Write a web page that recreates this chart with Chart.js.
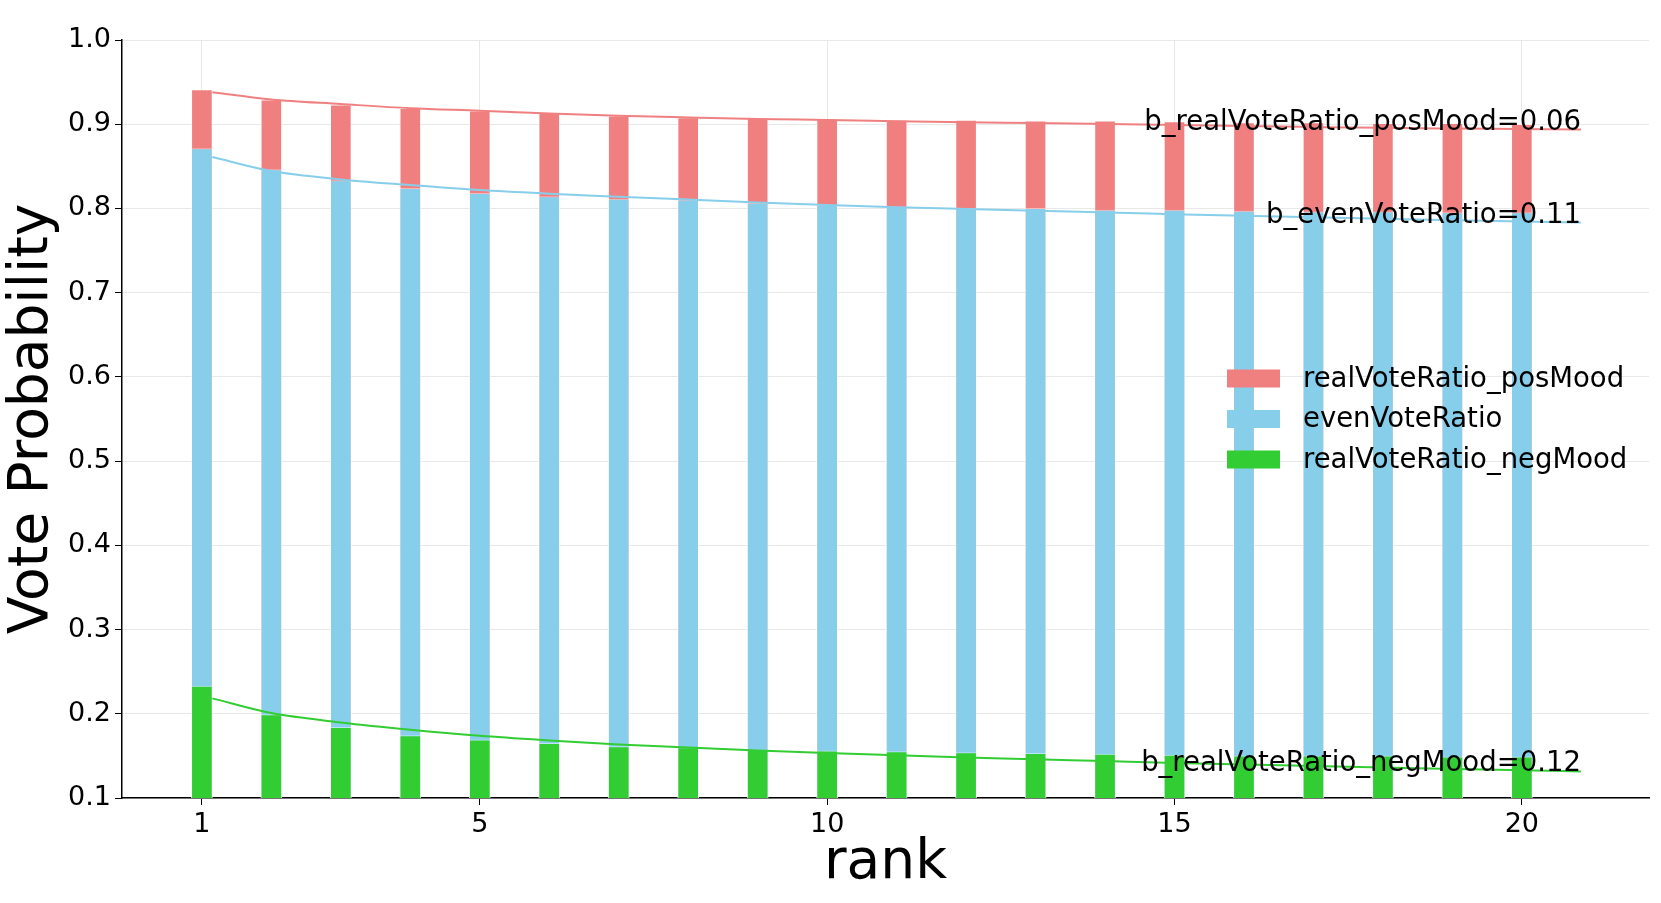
<!DOCTYPE html>
<html>
<head>
<meta charset="utf-8">
<script src="https://cdn.jsdelivr.net/npm/chart.js@4.4.0/dist/chart.umd.min.js"></script>
<style>
html, body { margin: 0; padding: 0; background: #fff; }
</style>
</head>
<body>
<canvas id="voteChart" width="1661" height="903"></canvas>
<script>
// bar values per rank
const ranks = [1, 2, 3, 4, 5, 6, 7, 8, 9, 10, 11, 12, 13, 14, 15, 16, 17, 18, 19, 20]
const posMood = [0.941, 0.929, 0.923, 0.919, 0.916, 0.913, 0.910, 0.908, 0.907, 0.906, 0.905, 0.905, 0.904, 0.904, 0.903, 0.902, 0.902, 0.901, 0.901, 0.900]
const evenVote = [0.871, 0.846, 0.833, 0.824, 0.818, 0.814, 0.811, 0.810, 0.806, 0.804, 0.802, 0.800, 0.800, 0.798, 0.798, 0.797, 0.796, 0.796, 0.795, 0.795]
const negMood = [0.233, 0.199, 0.184, 0.174, 0.169, 0.165, 0.161, 0.160, 0.157, 0.156, 0.155, 0.154, 0.153, 0.152, 0.151, 0.150, 0.150, 0.150, 0.149, 0.149]

// fitted curves
const fitX = [1.15, 2, 3, 4, 5, 6, 7, 8, 9, 10, 11, 12, 13, 14, 15, 16, 17, 18, 19, 20, 20.85]
const fitPos = [0.938, 0.9294, 0.924, 0.919, 0.916, 0.9127, 0.910, 0.908, 0.9063, 0.905, 0.9036, 0.9024, 0.9014, 0.9003, 0.8992, 0.8978, 0.8967, 0.8957, 0.8949, 0.8942, 0.8937]
const fitEven = [0.861, 0.8444, 0.8345, 0.8278, 0.8218, 0.8175, 0.8139, 0.8105, 0.8072, 0.8042, 0.8015, 0.7993, 0.7972, 0.7952, 0.7932, 0.7912, 0.7894, 0.7877, 0.7861, 0.7846, 0.7832]
const fitNeg = [0.2183, 0.2008, 0.1897, 0.181, 0.1738, 0.1683, 0.1635, 0.1600, 0.1565, 0.1535, 0.1507, 0.1482, 0.146, 0.1438, 0.1416, 0.1397, 0.138, 0.1362, 0.1345, 0.133, 0.1315]

const xTicks = [1, 5, 10, 15, 20]
const yTicks = [0.1, 0.2, 0.3, 0.4, 0.5, 0.6, 0.7, 0.8, 0.9, 1.0]
const seriesNames = ['realVoteRatio_posMood', 'evenVoteRatio', 'realVoteRatio_negMood']
const fitLabels = ['b_realVoteRatio_posMood=0.06', 'b_evenVoteRatio=0.11', 'b_realVoteRatio_negMood=0.12']
const colors = ['#f08080', '#87ceeb', '#32cd32']

const FONT = "'DejaVu Sans', sans-serif"

function pts(xs, ys){
return xs.map((x, k) => ({x: x, y: ys[k]}))
}

function barSet(k, values, order){
return {
type: 'bar',
label: seriesNames[k],
data: pts(ranks, values),
backgroundColor: colors[k],
borderColor: 'rgba(255,255,255,0.45)',
borderWidth: 1,
barThickness: 21,
grouped: false,
order: order
}
}

function lineSet(k, values){
return {
type: 'line',
label: fitLabels[k],
data: pts(fitX, values),
borderColor: colors[k],
borderWidth: 2,
pointRadius: 0,
fill: false,
cubicInterpolationMode: 'monotone',
order: 0
}
}

// text at the end of each fitted curve
const fitText = {
id: 'fitText',
afterDatasetsDraw(chart){
const ctx = chart.ctx
ctx.save()
ctx.font = '27.5px ' + FONT
ctx.fillStyle = '#000'
ctx.textAlign = 'right'
ctx.textBaseline = 'alphabetic'
chart.data.datasets.forEach((ds, i) => {
if (ds.type !== 'line') return
const meta = chart.getDatasetMeta(i)
const last = meta.data[meta.data.length - 1]
ctx.fillText(ds.label, last.x, last.y)
})
ctx.restore()
}
}

// legend, centre right inside the axes
const boxLegend = {
id: 'boxLegend',
afterDraw(chart){
const ctx = chart.ctx
const area = chart.chartArea
const rowH = 40.5
const midY = (area.top + area.bottom) / 2
const x0 = area.right - 422
ctx.save()
ctx.font = '27.5px ' + FONT
ctx.textAlign = 'left'
ctx.textBaseline = 'middle'
seriesNames.forEach((name, k) => {
const cy = midY + (k - 1) * rowH
ctx.fillStyle = colors[k]
ctx.fillRect(x0, cy - 9, 53, 18)
ctx.fillStyle = '#000'
ctx.fillText(name, x0 + 76, cy + 1)
})
ctx.restore()
}
}

const ctx = document.getElementById('voteChart')

new Chart(ctx, {
type: 'bar',
data: {
datasets: [
lineSet(0, fitPos),
lineSet(1, fitEven),
lineSet(2, fitNeg),
barSet(2, negMood, 1),
barSet(1, evenVote, 2),
barSet(0, posMood, 3)
]
},
options: {
responsive: false,
animation: false,
layout: { padding: { top: 40, right: 12, left: 0, bottom: 0 } },
plugins: {
legend: { display: false },
tooltip: { enabled: false }
},
scales: {
x: {
type: 'linear',
min: -0.15,
max: 21.83,
offset: false,
afterBuildTicks: scale => { scale.ticks = xTicks.map(v => ({value: v})) },
afterFit: scale => { scale.height = 105 },
grid: { color: '#e8e8e8', lineWidth: 1, offset: false, tickColor: '#000', tickLength: 7 },
border: { display: true, color: '#000', width: 1.5 },
ticks: { color: '#000', font: { family: FONT, size: 27 }, padding: 4, maxRotation: 0 },
title: { display: true, text: 'rank', color: '#000', font: { family: FONT, size: 55 }, padding: { top: 0, bottom: 6 } }
},
y: {
type: 'linear',
min: 0.1,
max: 1.0,
beginAtZero: false,
afterBuildTicks: scale => { scale.ticks = yTicks.map(v => ({value: v})) },
afterFit: scale => { scale.width = 122 },
grid: { color: '#e8e8e8', lineWidth: 1, tickColor: '#000', tickLength: 7 },
border: { display: true, color: '#000', width: 1.5 },
ticks: { color: '#000', font: { family: FONT, size: 27 }, padding: 4, callback: v => v.toFixed(1) },
title: { display: true, text: 'Vote Probability', color: '#000', font: { family: FONT, size: 55 }, padding: { top: 0, bottom: 0 } }
}
}
},
plugins: [fitText, boxLegend]
})
</script>
</body>
</html>
